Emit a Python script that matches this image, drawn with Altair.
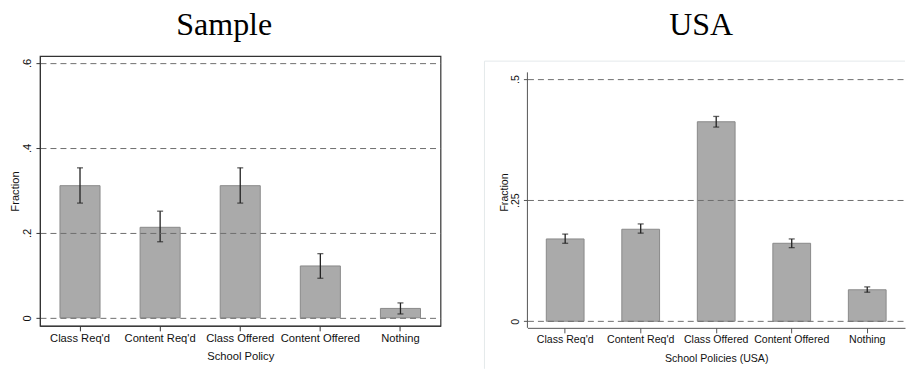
import altair as alt
import pandas as pd

categories = ["Class Req'd", "Content Req'd", "Class Offered", "Content Offered", "Nothing"]

sample_frac = [0.311, 0.213, 0.311, 0.122, 0.022]
sample_lo = [0.270, 0.179, 0.270, 0.093, 0.009]
sample_hi = [0.353, 0.251, 0.353, 0.151, 0.035]
sample_ticks = [0, 0.2, 0.4, 0.6]

usa_frac = [0.170, 0.190, 0.412, 0.161, 0.065]
usa_lo = [0.161, 0.182, 0.401, 0.152, 0.060]
usa_hi = [0.180, 0.201, 0.423, 0.170, 0.071]
usa_ticks = [0, 0.25, 0.5]
usa_axis_range = [-0.0136, 0.514]

sample_df = pd.DataFrame({"policy": categories, "frac": sample_frac, "lo": sample_lo, "hi": sample_hi})
usa_df = pd.DataFrame({"policy": categories, "frac": usa_frac, "lo": usa_lo, "hi": usa_hi})

LABEL_EXPR = "datum.value == 0 ? '0' : slice(format(datum.value, '.2~f'), 1)"
FONT = "Liberation Sans"
BAR_FILL = "#aaaaaa"
BAR_STROKE = "#8a8a8a"
ERR = "#222222"


def panel(df, ticks, domain, xtitle, fsize, axis_color, show_ydomain, xtitle_pad):
    xenc = alt.X(
        "policy:N",
        sort=categories,
        scale=alt.Scale(paddingInner=0.5, paddingOuter=0.25),
        axis=alt.Axis(
            title=xtitle, labelAngle=0, tickSize=5, labelPadding=2, titlePadding=xtitle_pad,
            domainColor=axis_color, tickColor=axis_color, labelFont=FONT, titleFont=FONT,
            labelFontSize=fsize, titleFontSize=fsize, titleFontWeight="normal",
            labelColor="#111", titleColor="#111",
        ),
    )
    yscale = alt.Scale(domain=domain, nice=False, zero=False)
    base = alt.Chart(df)
    bars = base.mark_bar(color=BAR_FILL, stroke=BAR_STROKE, strokeWidth=1).encode(
        x=xenc,
        y=alt.Y(
            "frac:Q",
            scale=yscale,
            axis=alt.Axis(
                title="Fraction", values=ticks, labelExpr=LABEL_EXPR, labelAngle=270,
                labelAlign="center", labelBaseline="alphabetic", tickSize=4, labelPadding=5,
                titlePadding=1, grid=True, gridDash=[6, 4], gridColor="#6e6e6e", gridWidth=1,
                domain=show_ydomain,
                domainColor=axis_color, tickColor=axis_color, labelFont=FONT, titleFont=FONT,
                labelFontSize=fsize, titleFontSize=fsize, titleFontWeight="normal",
                labelColor="#111", titleColor="#111", zindex=1,
            ),
        ),
    )
    err = base.mark_rule(color=ERR, strokeWidth=1.3).encode(
        x=alt.X("policy:N", sort=categories), y="lo:Q", y2="hi:Q"
    )
    cap_hi = base.mark_tick(color=ERR, thickness=1.3, size=6).encode(
        x=alt.X("policy:N", sort=categories), y="hi:Q"
    )
    cap_lo = base.mark_tick(color=ERR, thickness=1.3, size=6).encode(
        x=alt.X("policy:N", sort=categories), y="lo:Q"
    )
    return [bars, err, cap_hi, cap_lo]


left_layers = panel(sample_df, sample_ticks, [-0.019, 0.616], "School Policy", 11.2, "#333", True, 6)
left = alt.layer(*left_layers).properties(
    width=401,
    height=270,
    view=alt.ViewBackground(stroke="#333333", strokeWidth=1.2),
    title=alt.TitleParams(
        "Sample", font="Liberation Serif", fontSize=32, fontWeight="normal", color="black",
        anchor="middle", frame="group", dx=-16, offset=-11, baseline="alphabetic",
    ),
)

one = pd.DataFrame({"k": [0]})
axis_df = pd.DataFrame({"lo": [usa_axis_range[0]], "hi": [usa_axis_range[1]]})
box_top = alt.Chart(one).mark_rule(color="#e4e9eb", strokeWidth=1).encode(
    x=alt.value(-43), x2=alt.value(378), y=alt.value(5)
)
box_left = alt.Chart(one).mark_rule(color="#e4e9eb", strokeWidth=1).encode(
    x=alt.value(-43), y=alt.value(5), y2=alt.value(313)
)
yline = alt.Chart(axis_df).mark_rule(color="#555555", strokeWidth=1).encode(
    x=alt.value(0), y=alt.Y("lo:Q"), y2="hi:Q"
)
right_layers = panel(usa_df, usa_ticks, [-0.0136, 0.5475], "School Policies (USA)", 10.6, "#555", False, 8)
right = alt.layer(box_top, box_left, *right_layers, yline).properties(
    width=378,
    height=272,
    view=alt.ViewBackground(strokeOpacity=0),
    title=alt.TitleParams(
        "USA", font="Liberation Serif", fontSize=32, fontWeight="normal", color="black",
        anchor="middle", frame="group", dx=-15, offset=-11, baseline="alphabetic",
    ),
)

chart = alt.hconcat(left, right, spacing=42).properties(
    padding={"left": 9, "top": 8, "right": 0, "bottom": 0},
    background="white",
).resolve_scale(x="independent", y="independent")

chart.save("out.html", embed_options={"renderer": "svg", "actions": False})
